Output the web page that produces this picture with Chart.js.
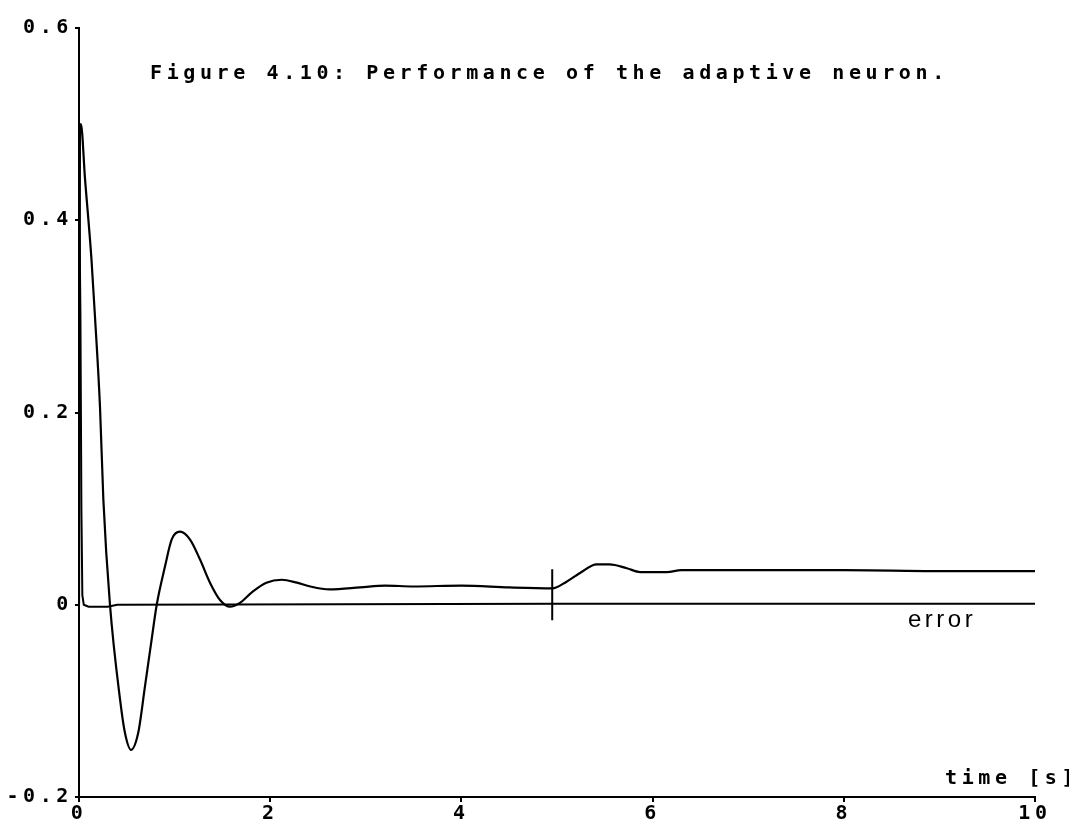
<!DOCTYPE html>
<html>
<head>
<meta charset="utf-8">
<script src="https://cdn.jsdelivr.net/npm/chart.js@4"></script>
<style>
  body { margin: 0; background: #fff; }
</style>
</head>
<body>
<canvas id="neuron" width="1069" height="829"></canvas>
<script>
// response of the adaptive neuron
const respTime = [0, 0.01, 0.02, 0.063, 0.13, 0.167, 0.22, 0.255, 0.324, 0.43, 0.48, 0.544, 0.62, 0.69, 0.76, 0.813,
  0.9, 0.97, 1.056, 1.16, 1.266, 1.37, 1.475, 1.58, 1.684, 1.82, 1.96, 2.12, 2.28, 2.42, 2.62, 2.94, 3.2, 3.5,
  4.0, 4.5, 4.95, 5.1, 5.24, 5.415, 5.55, 5.73, 5.87, 6.15, 6.3, 7.0, 8.0, 9.0, 10.0];
const respValue = [0, 0.498, 0.5, 0.443, 0.36, 0.3, 0.205, 0.109, 0, -0.099, -0.133, -0.151, -0.133, -0.085, -0.036, 0,
  0.04, 0.068, 0.076, 0.068, 0.047, 0.023, 0.005, -0.002, 0.002, 0.014, 0.023, 0.026, 0.023, 0.019, 0.016, 0.018,
  0.02, 0.019, 0.02, 0.018, 0.017, 0.024, 0.033, 0.042, 0.042, 0.038, 0.034, 0.034, 0.036, 0.036, 0.036, 0.035, 0.035];

// error signal
const errTime = [0, 0.015, 0.025, 0.035, 0.05, 0.1, 0.3, 0.4, 5.0, 10.0];
const errValue = [0.45, 0.3, 0.1, 0.01, 0, -0.002, -0.002, 0, 0.001, 0.001];

// little vertical mark at the step change
const markTime = [4.95, 4.95];
const markValue = [0.037, -0.016];

const pts = (xs, ys) => xs.map((x, i) => ({ x: x, y: ys[i] }));

const pixelFont = '"DejaVu Sans Mono", "Liberation Mono", monospace';
const spacing = "4.6px";

const textPlugin = {
  id: "texts",
  beforeDraw(chart) {
    chart.ctx.letterSpacing = spacing;
  },
  afterDraw(chart) {
    const ctx = chart.ctx;
    ctx.save();
    ctx.fillStyle = "#000";
    ctx.textBaseline = "middle";
    ctx.textAlign = "left";
    ctx.letterSpacing = spacing;
    ctx.font = "bold 20px " + pixelFont;
    ctx.fillText("Figure 4.10: Performance of the adaptive neuron.", 150, 74);
    ctx.fillText("time [s]", 945, 779);
    ctx.letterSpacing = "3.5px";
    ctx.font = "24px 'Liberation Sans', Arial, sans-serif";
    ctx.fillText("error", 908, 620);
    ctx.restore();
  }
};

new Chart(document.getElementById("neuron"), {
  type: "line",
  data: {
    datasets: [
      { data: pts(respTime, respValue), borderColor: "#000", borderWidth: 2.2, pointRadius: 0,
        cubicInterpolationMode: "monotone" },
      { data: pts(errTime, errValue), borderColor: "#000", borderWidth: 2, pointRadius: 0 },
      { data: pts(markTime, markValue), borderColor: "#000", borderWidth: 2, pointRadius: 0 }
    ]
  },
  options: {
    responsive: false,
    animation: false,
    layout: { padding: { top: 28, right: 34, left: 0, bottom: 0 } },
    plugins: { legend: { display: false }, tooltip: { enabled: false } },
    scales: {
      x: {
        type: "linear",
        min: 0,
        max: 10,
        afterFit: (s) => { s.height = 32; },
        border: { display: true, color: "#000", width: 2 },
        grid: { drawOnChartArea: false, drawTicks: true, tickLength: 5, color: "#000", lineWidth: 2 },
        ticks: {
          stepSize: 2,
          color: "#000",
          padding: 0,
          maxRotation: 0,
          font: { family: pixelFont, size: 20, weight: "bold" }
        }
      },
      y: {
        type: "linear",
        min: -0.2,
        max: 0.6,
        afterFit: (s) => { s.width = 79; },
        border: { display: true, color: "#000", width: 2 },
        grid: { drawOnChartArea: false, drawTicks: true, tickLength: 4, color: "#000", lineWidth: 2 },
        ticks: {
          stepSize: 0.2,
          color: "#000",
          padding: 2,
          font: { family: pixelFont, size: 20, weight: "bold" },
          callback: (v) => Math.abs(v) < 1e-9 ? "0" : v.toFixed(1)
        }
      }
    }
  },
  plugins: [textPlugin]
});
</script>
</body>
</html>
